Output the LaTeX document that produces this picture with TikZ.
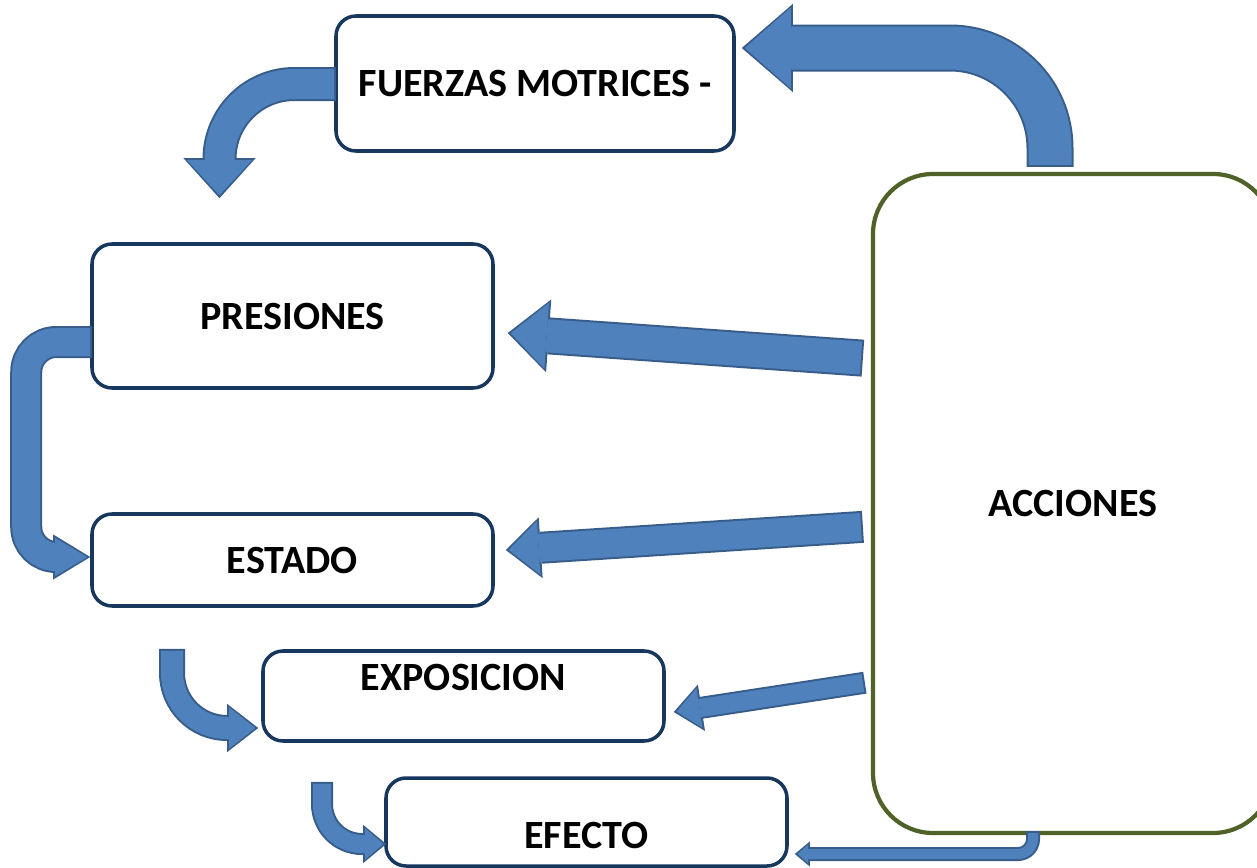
\documentclass[tikz,border=0pt]{standalone}
\usepackage{fontspec}
\setmainfont{Carlito}
\usetikzlibrary{arrows.meta,calc}

\definecolor{arrowfill}{HTML}{4F81BD}
\definecolor{arrowedge}{HTML}{385D8A}
\definecolor{boxedge}{HTML}{17375E}
\definecolor{accedge}{HTML}{4F6228}

\begin{document}
\begin{tikzpicture}
	[x=0.1mm,y=-0.1mm,
	 box/.style={draw=boxedge,line width=1pt,rounded corners=2mm,fill=white,
	   minimum width=40.1mm,font=\bfseries\fontsize{11.4}{13}\selectfont},
	 barrow/.style n args={3}{draw=arrowedge,line width=#1+0.4mm,shorten <=-0.2mm,
	   -{Triangle[length=#3+0.5mm,width=#2+0.7mm,line width=0pt]},
	   postaction={draw=arrowfill,line width=#1,shorten <=0mm,shorten >=0.3mm,
	     -{Triangle[length=#3,width=#2,line width=0pt]}}}]
	\useasboundingbox (0,0) rectangle (1257,868);

	\node[box,minimum width=39.8mm,minimum height=13.5mm] (fm) at (535,83.5) {FUERZAS MOTRICES -};
	\node[box,minimum height=14.4mm] (pr) at (292.5,316) {PRESIONES};
	\node[box,minimum height=9.2mm] (es) at (292.5,560) {ESTADO};
	\node[box,minimum height=9mm,text height=2.6mm,text depth=3.8mm] (ex) at (463.5,696) {EXPOSICION};
	\node[box,minimum height=8.8mm,text height=5.2mm,text depth=0mm] (ef) at (586.5,822) {EFECTO};
	\node[box,draw=accedge,line width=1.2pt,rounded corners=6mm,minimum width=40mm,
	  minimum height=65.9mm] (acc) at (1073,503.5) {ACCIONES};

	\draw[barrow={4.3mm}{8.1mm}{4.6mm},rounded corners=10mm]
	  ($(acc.north)+(-23,-7)$) |- ($(fm.east)+(6,-35.5)$);
	\draw[barrow={3mm}{6.5mm}{3.5mm},rounded corners=7.5mm]
	  ($(fm.west)+(0,0.5)$) -| ($(pr.north)+(-73,-44)$);
	\draw[barrow={3.3mm}{6.6mm}{3.6mm}] ($(acc.west)+(-10,-145.5)$) -- ($(pr.east)+(13,17)$);
	\draw[barrow={2.8mm}{5.4mm}{3mm}] ($(acc.west)+(-10,23.5)$) -- ($(es.east)+(11,-10)$);
	\draw[barrow={1.8mm}{4mm}{2.3mm}] ($(acc.west)+(-8,179.5)$) -- ($(ex.east)+(8,16)$);
	\draw[barrow={1mm}{1.8mm}{1mm},rounded corners=1.5mm]
	  ($(acc.south)+(-40,-2)$) |- ($(ef.east)+(6,32)$);
	\draw[barrow={2.8mm}{3.8mm}{3.2mm},rounded corners=3mm]
	  ($(pr.west)+(0,26)$) -- ++(-64,0) |- ($(es.west)+(0,-3)$);
	\draw[barrow={2.2mm}{4.1mm}{2.6mm},rounded corners=5.5mm]
	  ($(es.south)+(-120.5,43)$) |- ($(ex.west)+(-3,32)$);
	\draw[barrow={1.8mm}{3.1mm}{1.8mm},rounded corners=4mm]
	  ($(ex.south)+(-141.5,41)$) |- ($(ef.west)+(2,22)$);

\end{tikzpicture}
\end{document}
